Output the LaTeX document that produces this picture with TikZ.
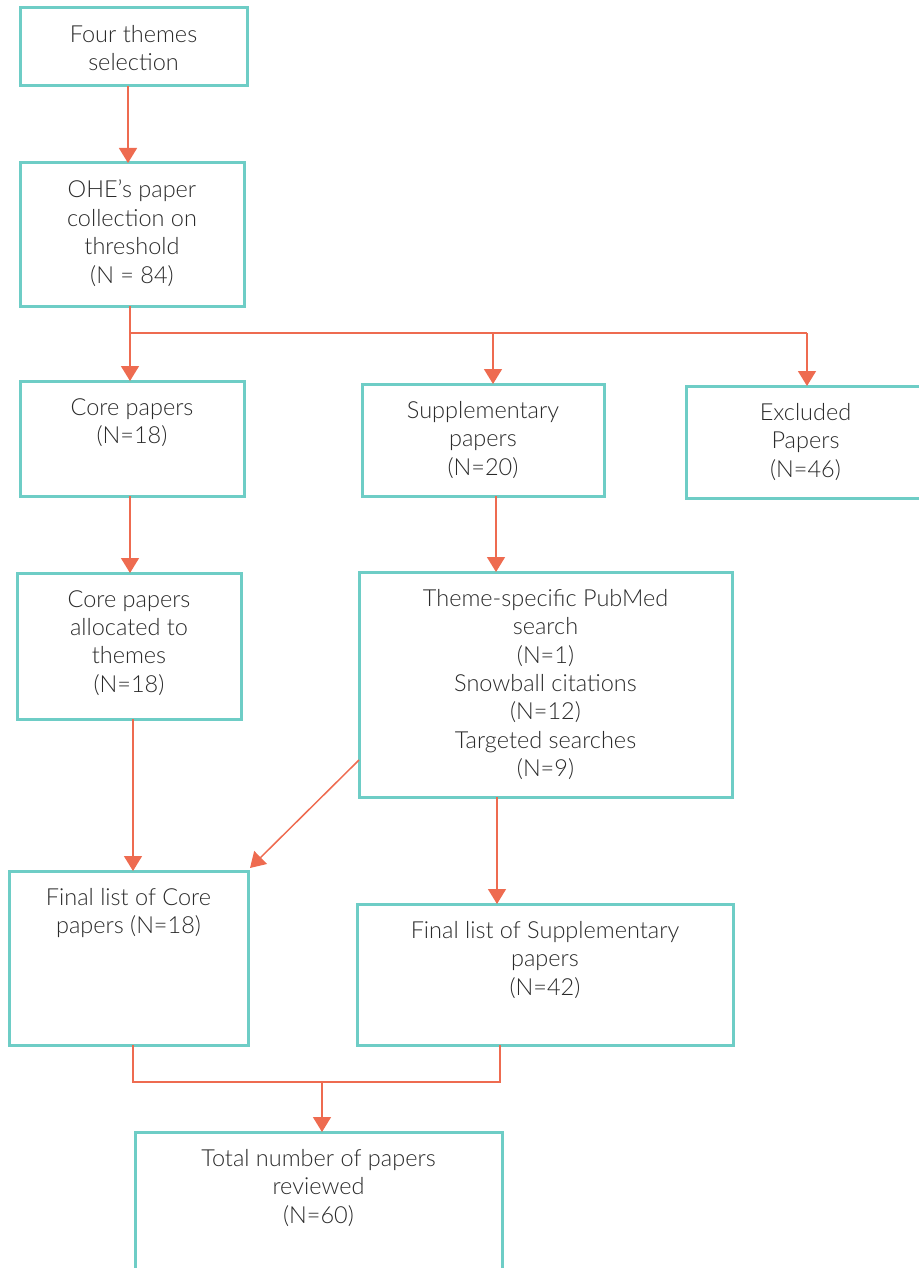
\documentclass[tikz,border=0pt]{standalone}
\usepackage{fontspec}
\setmainfont{Lato}[UprightFont=* Light]
\usetikzlibrary{arrows.meta}
\definecolor{boxteal}{HTML}{6ECDC6}
\definecolor{arr}{HTML}{EE6B50}
\definecolor{txt}{HTML}{2A2A2A}
\tikzset{
  boxr/.style={draw=boxteal, line width=3pt, inner sep=0pt, outer sep=0pt},
  lbl/.style={anchor=north, align=center, inner sep=0pt, font=\fontsize{23.5}{28.4}\selectfont, text=txt},
  conn/.style={draw=arr, line width=1.5pt, -{Triangle[length=15pt,width=18pt]}},
  ln/.style={draw=arr, line width=1.5pt},
}
\newcommand\mkbox[6]{%
  \node[boxr, minimum width={(#4-#2)*1pt}, minimum height={(#5-#3)*1pt}] (#1) at ({(#2+#4)/2},{(#3+#5)/2}) {};
  \node[lbl] (#1t) at ({(#2+#4)/2},{#3+17}) {#6};
}
\begin{document}
\begin{tikzpicture}[x=1pt,y=-1pt]
\useasboundingbox (0,0) rectangle (918,1268);
\mkbox{b1}{20}{8}{247}{86}{Four themes\\selection}
\mkbox{b2}{20}{163}{244}{306}{OHE’s paper\\collection on\\threshold\\(N = 84)}
\mkbox{b3}{20}{381}{244}{496}{Core papers\\(N=18)}
\mkbox{b4}{362}{384}{604}{496}{Supplementary\\papers\\(N=20)}
\mkbox{b5}{686}{386}{925}{498}{Excluded\\Papers\\(N=46)}
\mkbox{b6}{17}{573}{241}{719}{Core papers\\allocated to\\themes\\(N=18)}
\mkbox{b7}{359}{572}{732}{797}{Theme-specific PubMed\\search\\(N=1)\\Snowball citations\\(N=12)\\Targeted searches\\(N=9)}
\mkbox{b8}{9}{871}{248}{1045}{Final list of Core\\papers (N=18)}
\mkbox{b9}{357}{904}{733}{1045}{Final list of Supplementary\\papers\\(N=42)}
\mkbox{b10}{135}{1132}{502}{1290}{Total number of papers\\reviewed\\(N=60)}
% coordinates
\coordinate (x1) at (128,0);
\coordinate (j1) at (130,333);
\coordinate (j2) at (493,333);
\coordinate (j3) at (807,333);
\coordinate (x3) at (130,0);
\coordinate (x4) at (496,0);
\coordinate (x6) at (133,0);
\coordinate (x7) at (497,0);
\coordinate (d1) at (359,760);
\coordinate (d2) at (250,868);
\coordinate (m1) at (133,1082);
\coordinate (m2) at (500,1082);
\coordinate (m3) at (322,1082);
% connectors
\draw[conn] (b1.south -| x1) -- (b2.north -| x1);
\draw[ln] (b2.south -| j1) -- (j1) -- (j3);
\draw[conn] (j1) -- (b3.north -| j1);
\draw[conn] (j2) -- (b4.north -| j2);
\draw[conn] (j3) -- (b5.north -| j3);
\draw[conn] (b3.south -| x3) -- (b6.north -| x3);
\draw[conn] (b4.south -| x4) -- (b7.north -| x4);
\draw[conn] (b6.south -| x6) -- (b8.north -| x6);
\draw[conn] (d1) -- (d2);
\draw[conn] (b7.south -| x7) -- (b9.north -| x7);
\draw[ln] (b8.south -| m1) -- (m1) -- (m2) -- (b9.south -| m2);
\draw[conn] (m3) -- (b10.north -| m3);
\end{tikzpicture}
\end{document}
